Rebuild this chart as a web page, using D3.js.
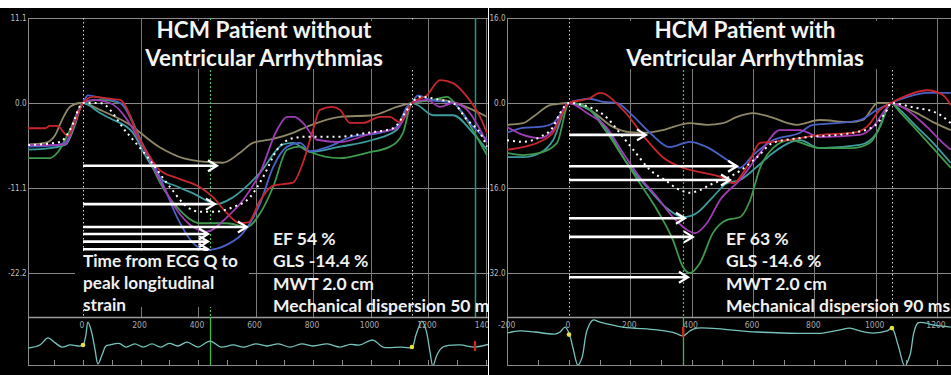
<!DOCTYPE html>
<html>
<head>
<meta charset="utf-8">
<script src="https://cdn.jsdelivr.net/npm/d3@7"></script>
<style>
body { margin: 0; background: #fff; }
svg { display: block; }
</style>
</head>
<body>
<div id="chart"></div>
<script>
// ---- data: strain curves, [time ms, longitudinal strain %] ----
var leftRed = [[-191,-3.3],[-132,-3.3],[-115,-3.0],[-90,-3.0],[-52,-4.3],[-28,-2.5],[0,0],[35,0.8],[104,0.5],[129,0.4],[198,-4.8],[268,-8.8],[327,-9.8],[407,-11.0],[452,-12.3],[501,-14.4],[546,-15.7],[575,-15.6],[615,-12.8],[661,-10.8],[730,-10.4],[765,-7.8],[800,-3.5],[824,-0.9],[866,-0.5],[894,-0.9],[929,-2.6],[974,-2.6],[1033,-1.8],[1068,-1.8],[1100,-2.5],[1144,0],[1196,1.0],[1242,3.0],[1287,2.6],[1336,0.8],[1381,-1.8],[1405,-3.9]];
var leftKhaki = [[-191,-5.4],[-132,-5.2],[-97,-4.2],[-73,-2.2],[-45,-0.5],[-10,0],[0,0],[59,-0.9],[153,-2.6],[268,-5.8],[348,-7.2],[431,-7.7],[487,-7.8],[546,-6.5],[591,-5.2],[661,-4.7],[730,-3.9],[779,-3.1],[894,-1.8],[1009,-1.6],[1092,-0.5],[1144,0],[1242,0.4],[1356,-0.9],[1405,-1.8]];
var leftPurple = [[-191,-5.5],[-115,-5.5],[-63,-5.4],[-45,-4.2],[-21,-1.6],[0,0],[35,0.4],[94,0],[209,-5.7],[268,-10.1],[327,-14.0],[383,-16.2],[431,-16.8],[501,-14.9],[556,-12.7],[616,-9.1],[675,-3.5],[710,-1.8],[735,-1.8],[765,-2.6],[814,-4.8],[894,-5.1],[1009,-3.9],[1092,-3.3],[1127,-1.3],[1144,0],[1196,0.4],[1242,-0.5],[1287,0],[1336,-0.9],[1405,-5.2]];
var leftBlue = [[-191,-5.7],[-115,-5.6],[-63,-5.2],[-45,-4.2],[-28,-2.2],[0,0],[17,1.0],[59,0.7],[129,0],[209,-5.5],[268,-9.7],[327,-14.9],[383,-18.3],[431,-19.2],[501,-18.5],[556,-17.0],[616,-13.1],[661,-8.4],[710,-5.7],[755,-5.2],[790,-6.3],[855,-5.7],[935,-4.4],[1033,-3.9],[1092,-3.1],[1127,-0.5],[1144,0],[1165,1.0],[1207,0.4],[1287,0],[1356,-3.1],[1405,-4.8]];
var leftTeal = [[-191,-6.1],[-115,-5.9],[-59,-5.4],[-28,-2.9],[0,0],[59,-1.3],[94,-2.0],[174,-3.9],[216,-6.8],[268,-9.8],[327,-10.9],[383,-11.8],[466,-13.2],[522,-12.3],[616,-9.1],[696,-5.4],[730,-5.2],[790,-6.4],[894,-5.7],[1009,-4.8],[1092,-3.5],[1144,0],[1165,-0.3],[1218,-1.6],[1287,-1.6],[1356,-3.9],[1405,-6.1]];
var leftGreen = [[-191,-7.2],[-115,-7.2],[-87,-6.4],[-45,-3.5],[0,0],[59,0.4],[129,0],[209,-5.5],[268,-10.4],[327,-13.6],[407,-15.7],[501,-15.7],[570,-16.2],[616,-14.4],[661,-11.0],[710,-6.1],[755,-5.7],[790,-6.4],[894,-7.2],[988,-6.5],[1068,-5.7],[1113,-3.9],[1144,0],[1218,0.4],[1266,0.8],[1311,-0.9],[1381,-5.2],[1405,-6.8]];
var leftAverage = [[-191,-5.5],[-80,-5.1],[-45,-3.5],[0,0],[59,0],[153,-3.9],[223,-7.0],[303,-11.0],[363,-13.6],[407,-14.2],[452,-14.2],[522,-13.6],[581,-12.3],[626,-9.7],[675,-6.1],[730,-4.6],[779,-4.4],[894,-4.4],[988,-3.9],[1078,-3.3],[1127,-0.9],[1144,0],[1172,0.8],[1242,0.4],[1287,0],[1336,-2.2],[1381,-3.9],[1405,-5.7]];

var rightRed = [[-202,-8.8],[-150,-8.3],[-95,-7.3],[-52,-5.6],[0,0],[68,0.9],[101,1.9],[176,-1.3],[254,-7.0],[306,-10.2],[362,-12.0],[443,-13.2],[502,-14.1],[535,-15.1],[580,-12.0],[623,-7.5],[665,-7.3],[711,-7.0],[818,-6.0],[926,-5.6],[971,-4.5],[1014,-1.3],[1050,0],[1089,1.1],[1167,2.4],[1219,1.5],[1245,-0.4]];
var rightKhaki = [[-202,-4.1],[-150,-3.8],[-117,-2.6],[-62,-0.4],[-39,-0.2],[0,0],[68,-1.3],[143,-4.5],[199,-5.5],[254,-5.6],[306,-5.1],[394,-3.8],[450,-4.1],[502,-3.8],[548,-2.6],[600,-1.9],[655,-2.6],[743,-4.1],[818,-3.2],[916,-3.6],[958,-3.2],[991,-0.8],[1004,0],[1050,0],[1089,-0.8],[1134,-1.9],[1187,-3.6],[1245,-5.1]];
var rightPurple = [[-202,-4.5],[-150,-6.0],[-95,-6.6],[-52,-5.1],[0,0],[59,-1.9],[124,-4.7],[176,-9.4],[231,-14.0],[287,-17.7],[339,-21.5],[385,-23.9],[411,-24.5],[450,-22.6],[492,-18.3],[557,-14.5],[623,-9.4],[688,-5.1],[753,-5.1],[818,-6.4],[949,-6.0],[991,-4.5],[1037,-0.8],[1050,0],[1102,-1.3],[1167,-4.5],[1219,-7.5],[1245,-8.8]];
var rightBlue = [[-202,-5.6],[-150,-4.7],[-95,-4.5],[-52,-3.8],[0,0],[36,0.6],[68,0.8],[111,0.2],[156,0],[199,-1.9],[264,-5.6],[329,-8.3],[394,-7.3],[450,-8.3],[515,-10.7],[557,-12.2],[600,-9.8],[665,-7.0],[753,-5.6],[795,-4.1],[874,-3.8],[949,-3.2],[1004,-1.3],[1050,0],[1102,1.1],[1167,1.9],[1245,1.9]];
var rightTeal = [[-202,-10.2],[-150,-10.2],[-95,-9.4],[-52,-7.0],[0,0],[68,-1.3],[124,-5.1],[189,-11.3],[254,-15.8],[319,-19.8],[372,-21.5],[417,-20.7],[469,-17.7],[515,-15.1],[557,-14.5],[613,-12.0],[665,-9.4],[753,-7.0],[818,-8.5],[949,-7.9],[1004,-5.6],[1050,0],[1079,-1.3],[1134,-4.5],[1187,-7.5],[1245,-11.3]];
var rightGreen = [[-202,-9.4],[-150,-9.8],[-95,-9.4],[-39,-7.5],[0,0],[46,-0.4],[124,-5.6],[176,-10.2],[231,-15.1],[287,-20.1],[339,-25.8],[372,-30.9],[394,-32.0],[427,-30.1],[469,-24.5],[515,-22.0],[557,-21.5],[590,-18.4],[623,-12.2],[665,-8.5],[720,-7.0],[818,-8.5],[926,-8.5],[981,-7.5],[1014,-4.5],[1050,0],[1079,-1.7],[1134,-5.1],[1187,-8.5],[1245,-12.2]];
var rightAverage = [[-202,-7.0],[-150,-7.3],[-95,-6.4],[-52,-4.5],[-29,-1.9],[0,0],[68,-0.8],[124,-2.8],[173,-6.2],[218,-9.4],[264,-12.6],[313,-14.5],[362,-16.4],[394,-16.9],[427,-16.4],[460,-15.4],[515,-14.1],[557,-12.8],[613,-10.2],[665,-7.5],[753,-6.6],[926,-5.6],[991,-4.5],[1037,-1.3],[1050,0],[1121,-0.8],[1200,-1.9],[1245,-3.8]];

// time-to-peak arrows: strain level and end time (ms), all start at Q (0 ms)
var leftArrowStrain = [-8.2, -13.2, -16.2, -17.1, -18.1, -19.1];
var leftArrowEnd = [466, 459, 570, 435, 435, 435];
var rightArrowStrain = [-6.0, -11.9, -14.5, -21.7, -25.2, -32.8];
var rightArrowEnd = [251, 548, 525, 378, 404, 388];

// ECG traces, [time ms, amplitude]
var leftEcg = [[-191,-0.08],[-150,0.04],[-122,0.31],[-97,0.12],[-73,-0.04],[-45,0.04],[-10,0],[0,0.04],[10,0.42],[17,0.92],[28,0.62],[42,-0.15],[52,-0.69],[66,-0.35],[80,0],[94,0.04],[125,0.1],[150,-0.04],[180,0.08],[210,-0.04],[240,0.08],[270,-0.04],[300,0.1],[330,0],[362,0.15],[400,-0.04],[442,0.19],[480,-0.04],[522,0.04],[560,-0.04],[600,0.08],[640,0],[680,0.08],[720,-0.04],[760,0.08],[800,0],[850,0.08],[894,-0.04],[930,0.06],[963,0.04],[1009,0.23],[1043,-0.04],[1103,-0.04],[1144,-0.04],[1158,0.42],[1179,0.96],[1193,0.62],[1207,-0.23],[1217,-0.77],[1231,-0.35],[1252,-0.04],[1311,0.04],[1363,-0.04],[1416,0.08]];
var rightEcg = [[-202,-0.04],[-160,0.04],[-111,0],[-46,-0.08],[-29,0],[-13,0.19],[0,-0.04],[13,-0.62],[29,-1.27],[42,-1.0],[59,0.08],[78,0.46],[101,0.38],[176,0.19],[287,0.08],[346,-0.04],[372,-0.15],[394,0.04],[417,0.15],[613,0],[828,-0.04],[883,0.08],[916,0.15],[949,0.04],[991,-0.04],[1037,0.04],[1053,0.15],[1073,-0.5],[1095,-1.31],[1112,-0.88],[1125,0],[1138,0.35],[1161,0.35],[1187,0.27],[1245,0.19]];
var leftQDots = [[0,0.04],[1144,-0.04]];
var rightQDots = [[0,-0.1],[1053,0.15]];

// axes and event markers
var leftYTicks = [11.1, 0.0, -11.1, -22.2];
var rightYTicks = [16.0, 0.0, -16.0, -32.0];
var leftTimeTicks = [0, 200, 400, 600, 800, 1000, 1200, 1400];
var rightTimeTicks = [-200, 0, 200, 400, 600, 800, 1000, 1200];
var leftQTimes = [0, 1144];
var rightQTimes = [0, 1053];
var leftAvc = 442, rightAvc = 372;
var leftEndMarker = 1363, rightEndMarker = 372;

// texts
var leftTitle = ["HCM Patient without", "Ventricular Arrhythmias"];
var rightTitle = ["HCM Patient with", "Ventricular Arrhythmias"];
var leftStats = ["EF 54 %", "GLS -14.4 %", "MWT 2.0 cm", "Mechanical dispersion 50 ms"];
var rightStats = ["EF 63 %", "GLS -14.6 %", "MWT 2.0 cm", "Mechanical dispersion 90 ms"];
var leftNote = ["Time from ECG Q to", "peak longitudinal", "strain"];

var segColors = {red: "#c8282c", khaki: "#8e8866", purple: "#a23cb6", blue: "#4a62c8", teal: "#3c9c9e", green: "#3e9a4c"};

var width = 951, height = 375;
var svg = d3.select("#chart").append("svg")
    .attr("width", width)
    .attr("height", height);
svg.append("rect").attr("width", width).attr("height", height).attr("fill", "#fff");

function px(v) { return Math.round(v) + 0.5; }

function drawPanel(p) {
    var top = 18, plotBottom = 317, ecgBottom = 365;
    var defs = svg.append("defs");
    defs.append("clipPath").attr("id", "panel-" + p.id)
        .append("rect").attr("x", p.left).attr("y", 8)
        .attr("width", p.right - p.left).attr("height", height - 8);
    defs.append("clipPath").attr("id", "plot-" + p.id)
        .append("rect").attr("x", p.plotLeft).attr("y", top)
        .attr("width", p.right - p.plotLeft).attr("height", plotBottom - top);
    defs.append("clipPath").attr("id", "ecg-" + p.id)
        .append("rect").attr("x", p.plotLeft).attr("y", plotBottom)
        .attr("width", p.right - p.plotLeft).attr("height", ecgBottom - plotBottom);

    var g = svg.append("g").attr("clip-path", "url(#panel-" + p.id + ")");
    g.append("rect").attr("x", p.left).attr("y", 8)
        .attr("width", p.right - p.left).attr("height", height - 8)
        .attr("fill", "#000");

    var x = d3.scaleLinear().domain([0, 1200]).range(p.xRange);
    var y = d3.scaleLinear().domain([p.yTicks[3], p.yTicks[0]]).range([273, 18]);
    var ey = d3.scaleLinear().domain([-1, 1]).range([p.ecgBase + 26, p.ecgBase - 26]);

    // grid
    g.selectAll(".hgrid").data(p.yTicks).enter().append("line")
        .attr("x1", p.plotLeft).attr("x2", p.right)
        .attr("y1", function (d) { return px(y(d)); })
        .attr("y2", function (d) { return px(y(d)); })
        .attr("stroke", "#8a8a8a").attr("stroke-width", 1);
    var vt = d3.range(-200, 1600, 200).filter(function (t) {
        return t !== 0 && x(t) > p.plotLeft + 2 && x(t) < p.right;
    });
    g.selectAll(".vgrid").data(vt).enter().append("line")
        .attr("x1", function (d) { return px(x(d)); })
        .attr("x2", function (d) { return px(x(d)); })
        .attr("y1", top).attr("y2", plotBottom)
        .attr("stroke", "#7a7a7a").attr("stroke-width", 1);
    g.append("line")
        .attr("x1", px(p.plotLeft)).attr("x2", px(p.plotLeft))
        .attr("y1", top).attr("y2", ecgBottom)
        .attr("stroke", "#8a8a8a");

    // y labels
    g.selectAll(".ylab").data(p.yTicks).enter().append("text")
        .attr("x", p.plotLeft - 1.5).attr("y", function (d) { return y(d) + 3; })
        .attr("text-anchor", "end")
        .attr("font-family", "'Liberation Sans Narrow', 'DejaVu Sans Condensed', sans-serif")
        .attr("font-size", 8).attr("fill", "#bdbdbd")
        .text(function (d) { return d.toFixed(1); });

    // Q markers (white dotted), AVC (green dotted), end marker
    g.selectAll(".qline").data(p.qTimes).enter().append("line")
        .attr("x1", function (d) { return px(x(d)); })
        .attr("x2", function (d) { return px(x(d)); })
        .attr("y1", top).attr("y2", plotBottom)
        .attr("stroke", "#d8d8d8").attr("stroke-width", 1)
        .attr("stroke-dasharray", "1.5,2.5");
    g.append("line")
        .attr("x1", px(x(p.avc))).attr("x2", px(x(p.avc)))
        .attr("y1", top).attr("y2", plotBottom)
        .attr("stroke", "#4cc060").attr("stroke-width", 1.2)
        .attr("stroke-dasharray", "2,2");
    if (p.tealLine) {
        g.append("line")
            .attr("x1", px(x(p.endMarker))).attr("x2", px(x(p.endMarker)))
            .attr("y1", top).attr("y2", plotBottom)
            .attr("stroke", "#1f9a8a").attr("stroke-width", 1.5);
    }

    // strain curves
    var line = d3.line()
        .x(function (d) { return x(d[0]); })
        .y(function (d) { return y(d[1]); })
        .curve(d3.curveMonotoneX);
    var cg = g.append("g").attr("clip-path", "url(#plot-" + p.id + ")");
    p.curves.forEach(function (c) {
        cg.append("path").datum(c.data)
            .attr("d", line)
            .attr("fill", "none")
            .attr("stroke", c.color)
            .attr("stroke-width", 1.8);
    });
    cg.append("path").datum(p.average)
        .attr("d", line)
        .attr("fill", "none")
        .attr("stroke", "#fff")
        .attr("stroke-width", 2)
        .attr("stroke-dasharray", "2,4");

    // arrows
    p.arrowStrain.forEach(function (s, i) {
        var y0 = y(s), x0 = x(0), x1 = x(p.arrowEnd[i]);
        g.append("line")
            .attr("x1", x0).attr("x2", x1 - 1).attr("y1", y0).attr("y2", y0)
            .attr("stroke", "#fff").attr("stroke-width", 2.6);
        g.append("path")
            .attr("d", "M" + (x1 - 9) + "," + (y0 - 5.5) + "L" + x1 + "," + y0 + "L" + (x1 - 9) + "," + (y0 + 5.5))
            .attr("fill", "none").attr("stroke", "#fff").attr("stroke-width", 2.2);
    });

    // title
    g.append("rect")
        .attr("x", p.titleBox[0]).attr("y", 21)
        .attr("width", p.titleBox[1] - p.titleBox[0]).attr("height", 48)
        .attr("fill", "#000");
    g.selectAll(".title").data(p.title).enter().append("text")
        .attr("x", p.titleX).attr("y", function (d, i) { return 37.5 + i * 28.5; })
        .attr("text-anchor", "middle")
        .attr("font-family", "Lato, 'Open Sans', sans-serif")
        .attr("font-weight", "bold").attr("font-size", 22.5)
        .attr("fill", "#f4f4f4")
        .text(function (d) { return d; });

    // annotation texts
    if (p.note) {
        g.append("rect").attr("x", 75).attr("y", 251)
            .attr("width", 174).attr("height", 56).attr("fill", "#000");
        g.selectAll(".note").data(p.note).enter().append("text")
            .attr("x", x(0)).attr("y", function (d, i) { return 267 + i * 22; })
            .attr("font-family", "Lato, 'Open Sans', sans-serif")
            .attr("font-weight", "bold").attr("font-size", 17.2)
            .attr("fill", "#f0f0f0")
            .text(function (d) { return d; });
    }
    g.selectAll(".stat").data(p.stats).enter().append("text")
        .attr("x", p.statsX).attr("y", function (d, i) { return 245 + i * 22.3; })
        .attr("font-family", "Lato, 'Open Sans', sans-serif")
        .attr("font-weight", "bold").attr("font-size", 17.5)
        .attr("fill", "#f0f0f0")
        .text(function (d) { return d; });

    // ECG strip
    g.append("rect").attr("x", p.plotLeft + 1).attr("y", plotBottom)
        .attr("width", p.right - p.plotLeft).attr("height", ecgBottom - plotBottom)
        .attr("fill", "#000");
    g.append("line")
        .attr("x1", p.plotLeft).attr("x2", p.right)
        .attr("y1", px(plotBottom)).attr("y2", px(plotBottom))
        .attr("stroke", "#9a9a9a").attr("stroke-width", 1.5);
    g.append("line")
        .attr("x1", p.plotLeft).attr("x2", p.right)
        .attr("y1", px(ecgBottom)).attr("y2", px(ecgBottom))
        .attr("stroke", "#8a8a8a");
    var minor = d3.range(-200, 1500, 100).filter(function (t) {
        return x(t) > p.plotLeft + 4 && x(t) < p.right;
    });
    g.selectAll(".etick").data(minor).enter().append("line")
        .attr("x1", function (d) { return px(x(d)); })
        .attr("x2", function (d) { return px(x(d)); })
        .attr("y1", ecgBottom).attr("y2", ecgBottom - 5)
        .attr("stroke", "#8a8a8a");
    g.selectAll(".elab").data(p.timeTicks).enter().append("text")
        .attr("x", function (d) { return x(d) - 1; }).attr("y", plotBottom + 11)
        .attr("text-anchor", "middle")
        .attr("font-family", "'Liberation Sans Narrow', 'DejaVu Sans Condensed', sans-serif")
        .attr("font-size", 8.5).attr("fill", "#a8a8a8")
        .text(function (d) { return d; });
    g.append("line")
        .attr("x1", px(x(p.avc))).attr("x2", px(x(p.avc)))
        .attr("y1", plotBottom).attr("y2", ecgBottom)
        .attr("stroke", "#40b850").attr("stroke-width", 1.3);
    var eline = d3.line()
        .x(function (d) { return x(d[0]); })
        .y(function (d) { return ey(d[1]); })
        .curve(d3.curveCatmullRom);
    g.append("g").attr("clip-path", "url(#ecg-" + p.id + ")")
        .append("path").datum(p.ecg)
        .attr("d", eline)
        .attr("fill", "none").attr("stroke", "#74c4bc").attr("stroke-width", 1.3);
    g.selectAll(".qdot").data(p.qDots).enter().append("circle")
        .attr("cx", function (d) { return x(d[0]); })
        .attr("cy", function (d) { return ey(d[1]); })
        .attr("r", 2.3).attr("fill", "#e8e040");
    g.append("rect")
        .attr("x", x(p.endMarker) - 1).attr("y", ey(0) - 5)
        .attr("width", 2.2).attr("height", 10)
        .attr("fill", "#e02020");
}

drawPanel({
    id: "left", left: 0, right: 488, plotLeft: 28,
    xRange: [83, 428], yTicks: leftYTicks, timeTicks: leftTimeTicks,
    ecgBase: 346, qTimes: leftQTimes, avc: leftAvc, endMarker: leftEndMarker, tealLine: true,
    curves: [
        {data: leftKhaki, color: segColors.khaki},
        {data: leftTeal, color: segColors.teal},
        {data: leftGreen, color: segColors.green},
        {data: leftBlue, color: segColors.blue},
        {data: leftPurple, color: segColors.purple},
        {data: leftRed, color: segColors.red}
    ],
    average: leftAverage,
    arrowStrain: leftArrowStrain, arrowEnd: leftArrowEnd,
    ecg: leftEcg, qDots: leftQDots,
    title: leftTitle, titleX: 264, titleBox: [145, 420],
    stats: leftStats, statsX: 273, note: leftNote
});

drawPanel({
    id: "right", left: 489, right: 951, plotLeft: 507,
    xRange: [569, 937], yTicks: rightYTicks, timeTicks: rightTimeTicks,
    ecgBase: 332, qTimes: rightQTimes, avc: rightAvc, endMarker: rightEndMarker, tealLine: false,
    curves: [
        {data: rightKhaki, color: segColors.khaki},
        {data: rightTeal, color: segColors.teal},
        {data: rightGreen, color: segColors.green},
        {data: rightBlue, color: segColors.blue},
        {data: rightPurple, color: segColors.purple},
        {data: rightRed, color: segColors.red}
    ],
    average: rightAverage,
    arrowStrain: rightArrowStrain, arrowEnd: rightArrowEnd,
    ecg: rightEcg, qDots: rightQDots,
    title: rightTitle, titleX: 745, titleBox: [624, 898],
    stats: rightStats, statsX: 726, note: null
});
</script>
</body>
</html>
